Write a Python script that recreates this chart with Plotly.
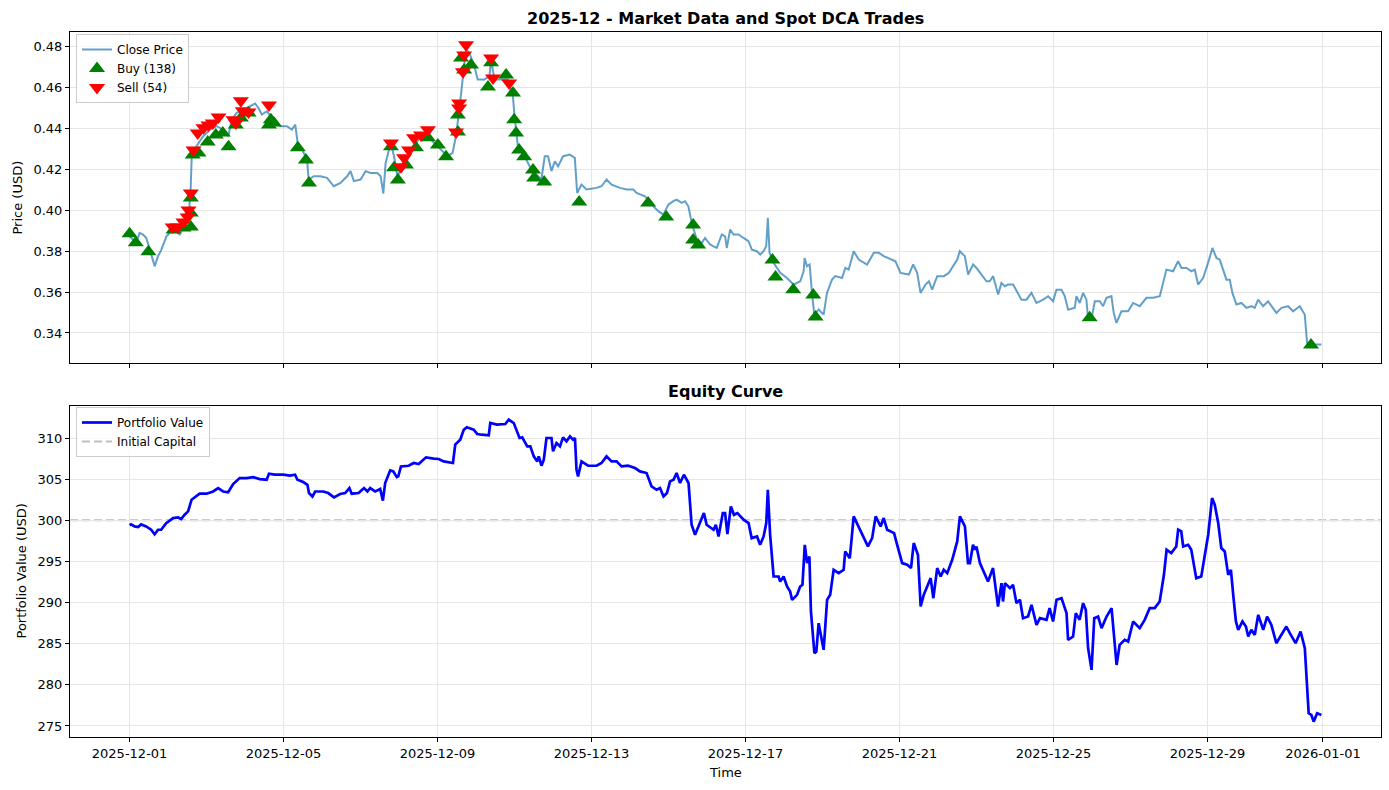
import pandas as pd
import plotly.graph_objects as go

START = pd.Timestamp("2025-12-01")

# ---------------- data ----------------
# time is given as days after 2025-12-01 00:00
price_day = [0.000, 0.174, 0.261, 0.348, 0.435, 0.522, 0.652, 0.739, 0.826, 0.957,
             1.130, 1.304, 1.435, 1.522, 1.583, 1.617, 1.739, 1.913, 2.087, 2.261,
             2.435, 2.565, 2.652, 2.783, 2.957, 3.130, 3.261, 3.348, 3.435, 3.565,
             3.739, 3.913, 4.087, 4.217, 4.304, 4.365, 4.478, 4.609, 4.652, 4.783,
             4.957, 5.130, 5.304, 5.478, 5.652, 5.739, 5.826, 6.000, 6.130, 6.261,
             6.435, 6.522, 6.591, 6.652, 6.783, 6.870, 6.957, 7.043, 7.217, 7.391,
             7.565, 7.739, 7.913, 8.087, 8.261, 8.391, 8.478, 8.565, 8.652, 8.739,
             8.826, 8.957, 9.043, 9.217, 9.348, 9.391, 9.478, 9.652, 9.826, 9.957,
             10.000, 10.087, 10.261, 10.435, 10.696, 10.785, 10.872, 10.959, 11.046, 11.132,
             11.262, 11.436, 11.566, 11.627, 11.740, 11.870, 12.130, 12.260, 12.390, 12.521,
             12.738, 12.911, 13.085, 13.171, 13.388, 13.605, 13.735, 13.866, 13.996, 14.126,
             14.213, 14.343, 14.430, 14.516, 14.603, 14.733, 14.863, 14.950, 15.080, 15.167,
             15.254, 15.384, 15.471, 15.514, 15.601, 15.688, 15.818, 15.948, 16.078, 16.165,
             16.295, 16.382, 16.469, 16.538, 16.581, 16.625, 16.729, 16.902, 17.076, 17.249,
             17.423, 17.510, 17.536, 17.597, 17.666, 17.727, 17.787, 17.900, 18.030, 18.117,
             18.247, 18.334, 18.508, 18.594, 18.681, 18.811, 18.941, 19.158, 19.332, 19.462,
             19.592, 19.896, 20.026, 20.243, 20.356, 20.460, 20.547, 20.677, 20.764, 20.850,
             20.980, 21.154, 21.284, 21.501, 21.567, 21.697, 21.784, 21.913, 22.000, 22.130,
             22.260, 22.346, 22.433, 22.563, 22.649, 22.736, 22.822, 22.952, 23.039, 23.169,
             23.299, 23.429, 23.558, 23.732, 23.861, 23.991, 24.078, 24.208, 24.294, 24.381,
             24.554, 24.597, 24.684, 24.771, 24.857, 24.900, 24.987, 25.074, 25.203, 25.290,
             25.377, 25.506, 25.567, 25.636, 25.766, 25.939, 26.069, 26.242, 26.416, 26.589,
             26.762, 26.848, 26.935, 27.108, 27.238, 27.325, 27.455, 27.584, 27.671, 27.758,
             27.887, 28.017, 28.130, 28.234, 28.320, 28.407, 28.494, 28.580, 28.649, 28.753,
             28.883, 29.013, 29.143, 29.229, 29.316, 29.446, 29.576, 29.792, 29.922, 30.095,
             30.225, 30.398, 30.528, 30.589, 30.658, 30.788, 30.961]
price_close = [0.3873, 0.3841, 0.3890, 0.3882, 0.3865, 0.3808, 0.3727, 0.3776, 0.3808, 0.3873,
               0.3906, 0.3882, 0.3939, 0.3955, 0.4085, 0.4281, 0.4314, 0.4363, 0.4395, 0.4412,
               0.4395, 0.4363, 0.4444, 0.4477, 0.4493, 0.4510, 0.4523, 0.4501, 0.4469, 0.4485,
               0.4444, 0.4412, 0.4412, 0.4395, 0.4420, 0.4330, 0.4298, 0.4249, 0.4151, 0.4167,
               0.4167, 0.4159, 0.4118, 0.4134, 0.4167, 0.4192, 0.4143, 0.4151, 0.4192, 0.4183,
               0.4183, 0.4167, 0.4082, 0.4232, 0.4330, 0.4265, 0.4167, 0.4200, 0.4249, 0.4314,
               0.4363, 0.4363, 0.4330, 0.4298, 0.4265, 0.4281, 0.4363, 0.4493, 0.4640, 0.4787,
               0.4771, 0.4705, 0.4640, 0.4640, 0.4656, 0.4738, 0.4640, 0.4640, 0.4640, 0.4559,
               0.4461, 0.4314, 0.4265, 0.4200, 0.4151, 0.4265, 0.4265, 0.4192, 0.4240, 0.4216,
               0.4265, 0.4273, 0.4257, 0.4085, 0.4126, 0.4102, 0.4110, 0.4118, 0.4151, 0.4126,
               0.4110, 0.4102, 0.4102, 0.4085, 0.4069, 0.4020, 0.3996, 0.3979, 0.4028, 0.4045,
               0.4053, 0.4037, 0.4045, 0.4020, 0.3939, 0.3857, 0.3841, 0.3865, 0.3833, 0.3824,
               0.3816, 0.3882, 0.3873, 0.3816, 0.3906, 0.3882, 0.3882, 0.3865, 0.3849, 0.3808,
               0.3800, 0.3784, 0.3800, 0.3824, 0.3963, 0.3792, 0.3743, 0.3694, 0.3669, 0.3637,
               0.3653, 0.3702, 0.3767, 0.3727, 0.3735, 0.3596, 0.3490, 0.3515, 0.3490, 0.3596,
               0.3661, 0.3678, 0.3669, 0.3718, 0.3710, 0.3800, 0.3759, 0.3735, 0.3792, 0.3792,
               0.3776, 0.3751, 0.3694, 0.3686, 0.3735, 0.3694, 0.3596, 0.3637, 0.3653, 0.3612,
               0.3678, 0.3678, 0.3694, 0.3759, 0.3800, 0.3776, 0.3686, 0.3735, 0.3718, 0.3686,
               0.3653, 0.3653, 0.3678, 0.3588, 0.3645, 0.3629, 0.3637, 0.3637, 0.3604, 0.3563,
               0.3563, 0.3596, 0.3547, 0.3563, 0.3580, 0.3555, 0.3612, 0.3612, 0.3580, 0.3514,
               0.3523, 0.3580, 0.3547, 0.3596, 0.3563, 0.3466, 0.3466, 0.3555, 0.3555, 0.3531,
               0.3572, 0.3580, 0.3498, 0.3449, 0.3506, 0.3506, 0.3547, 0.3531, 0.3572, 0.3572,
               0.3580, 0.3653, 0.3710, 0.3702, 0.3751, 0.3718, 0.3718, 0.3702, 0.3710, 0.3637,
               0.3669, 0.3743, 0.3816, 0.3767, 0.3759, 0.3710, 0.3661, 0.3661, 0.3596, 0.3539,
               0.3547, 0.3523, 0.3531, 0.3523, 0.3563, 0.3531, 0.3555, 0.3498, 0.3523, 0.3531,
               0.3506, 0.3531, 0.3490, 0.3351, 0.3335, 0.3343, 0.3343]

equity_day = [0.00, 0.04, 0.13, 0.22, 0.30, 0.43, 0.56, 0.65, 0.74, 0.82,
              0.95, 1.13, 1.26, 1.34, 1.43, 1.52, 1.61, 1.74, 1.82, 2.00,
              2.17, 2.30, 2.43, 2.56, 2.69, 2.86, 3.04, 3.21, 3.38, 3.56,
              3.62, 3.77, 3.99, 4.16, 4.30, 4.36, 4.51, 4.62, 4.66, 4.75,
              4.82, 5.03, 5.16, 5.31, 5.47, 5.60, 5.71, 5.77, 5.95, 6.09,
              6.18, 6.25, 6.38, 6.51, 6.58, 6.64, 6.77, 6.85, 6.94, 6.98,
              7.05, 7.25, 7.38, 7.51, 7.70, 7.90, 8.03, 8.16, 8.29, 8.40,
              8.46, 8.59, 8.68, 8.76, 8.94, 9.03, 9.15, 9.33, 9.37, 9.54,
              9.76, 9.85, 9.98, 10.07, 10.13, 10.20, 10.33, 10.41, 10.50, 10.59,
              10.63, 10.70, 10.76, 10.83, 10.96, 11.00, 11.09, 11.18, 11.26, 11.35,
              11.44, 11.52, 11.57, 11.61, 11.65, 11.74, 11.91, 12.13, 12.26, 12.39,
              12.52, 12.65, 12.78, 12.95, 13.13, 13.26, 13.43, 13.56, 13.69, 13.78,
              13.87, 13.96, 14.04, 14.13, 14.21, 14.30, 14.40, 14.52, 14.60, 14.69,
              14.82, 14.92, 14.99, 15.17, 15.23, 15.30, 15.41, 15.47, 15.53, 15.62,
              15.70, 15.79, 15.95, 16.08, 16.16, 16.30, 16.38, 16.47, 16.54, 16.58,
              16.64, 16.73, 16.86, 16.90, 16.99, 17.08, 17.16, 17.21, 17.34, 17.42,
              17.48, 17.54, 17.60, 17.66, 17.70, 17.79, 17.84, 17.90, 18.03, 18.12,
              18.20, 18.29, 18.42, 18.55, 18.59, 18.71, 18.81, 18.94, 19.07, 19.18,
              19.29, 19.38, 19.51, 19.59, 19.68, 19.86, 19.94, 20.07, 20.20, 20.30,
              20.37, 20.48, 20.55, 20.63, 20.72, 20.81, 20.88, 20.98, 21.07, 21.15,
              21.24, 21.37, 21.50, 21.57, 21.70, 21.78, 21.83, 21.91, 21.96, 22.00,
              22.09, 22.22, 22.30, 22.43, 22.56, 22.65, 22.69, 22.74, 22.87, 22.95,
              23.04, 23.13, 23.21, 23.34, 23.43, 23.56, 23.65, 23.82, 23.90, 23.99,
              24.08, 24.21, 24.34, 24.38, 24.51, 24.58, 24.68, 24.77, 24.84, 24.90,
              24.99, 25.06, 25.16, 25.25, 25.38, 25.51, 25.64, 25.72, 25.85, 25.94,
              26.07, 26.24, 26.37, 26.50, 26.63, 26.76, 26.87, 26.94, 27.06, 27.19,
              27.24, 27.32, 27.37, 27.50, 27.58, 27.71, 27.84, 28.02, 28.12, 28.19,
              28.28, 28.36, 28.45, 28.54, 28.61, 28.67, 28.74, 28.80, 28.91, 29.00,
              29.06, 29.14, 29.23, 29.32, 29.45, 29.55, 29.66, 29.79, 29.92, 30.05,
              30.14, 30.29, 30.42, 30.53, 30.63, 30.70, 30.76, 30.85, 30.96]
equity_value = [299.40, 299.50, 299.25, 299.17, 299.50, 299.25, 298.85, 298.30, 298.85, 298.85,
                299.65, 300.27, 300.35, 300.15, 300.67, 301.08, 302.50, 302.90, 303.23, 303.23,
                303.50, 303.90, 303.50, 303.40, 304.40, 305.13, 305.13, 305.25, 305.00, 304.93,
                305.66, 305.54, 305.54, 305.42, 305.54, 304.93, 304.65, 304.32, 303.31, 302.90,
                303.50, 303.50, 303.31, 302.78, 303.19, 303.31, 303.92, 303.23, 303.31, 303.92,
                303.51, 303.92, 303.51, 303.80, 302.38, 304.53, 306.07, 305.94, 305.25, 305.34,
                306.55, 306.63, 306.96, 306.84, 307.65, 307.49, 307.45, 307.16, 307.04, 306.96,
                309.19, 309.80, 311.01, 311.30, 311.01, 310.49, 310.40, 310.32, 311.82, 311.62,
                311.70, 312.23, 311.82, 310.81, 310.00, 310.08, 308.99, 308.99, 307.77, 307.16,
                307.77, 306.63, 307.36, 310.00, 310.00, 308.38, 309.39, 308.99, 310.08, 309.59,
                310.20, 309.80, 310.00, 306.15, 305.34, 307.16, 306.63, 306.63, 306.96, 307.77,
                307.16, 307.16, 306.55, 306.63, 306.35, 305.94, 305.74, 304.12, 303.71, 303.92,
                302.90, 303.31, 304.73, 304.93, 305.74, 304.53, 305.54, 304.53, 299.46, 298.24,
                299.66, 300.88, 299.46, 298.85, 299.46, 298.04, 300.88, 300.88, 298.32, 301.69,
                300.67, 300.88, 300.07, 299.66, 297.83, 298.04, 297.02, 298.04, 299.66, 303.71,
                298.24, 293.17, 293.17, 292.56, 293.17, 291.95, 291.35, 290.33, 290.94, 291.95,
                292.16, 297.02, 294.79, 295.60, 288.91, 283.84, 284.05, 287.49, 284.25, 290.33,
                290.94, 293.98, 293.58, 293.98, 296.21, 295.40, 300.47, 299.25, 297.83, 296.82,
                297.83, 300.47, 299.25, 300.27, 298.85, 298.44, 297.02, 294.79, 294.59, 294.19,
                297.23, 295.81, 289.52, 290.94, 291.95, 292.97, 290.53, 294.19, 293.17, 293.98,
                293.58, 295.20, 297.43, 300.47, 299.25, 294.79, 294.79, 297.02, 296.42, 296.82,
                294.79, 293.37, 292.56, 294.19, 289.52, 292.36, 290.13, 292.36, 291.75, 292.16,
                289.93, 290.33, 288.10, 288.30, 289.72, 287.29, 288.10, 287.90, 289.32, 287.70,
                290.33, 290.53, 288.71, 285.47, 285.87, 288.71, 287.90, 289.93, 289.12, 284.45,
                281.82, 288.10, 288.30, 286.89, 288.30, 289.32, 282.42, 284.86, 285.47, 285.26,
                287.70, 286.89, 287.90, 289.32, 289.32, 290.13, 293.37, 296.42, 296.01, 296.82,
                298.85, 298.65, 296.82, 297.02, 296.42, 292.97, 293.17, 298.24, 302.70, 301.89,
                299.66, 296.62, 296.21, 293.37, 293.98, 290.94, 287.70, 286.68, 287.70, 287.09,
                285.87, 286.68, 286.07, 288.51, 286.68, 288.30, 287.29, 285.06, 286.07, 287.09,
                286.28, 285.06, 286.48, 284.45, 276.54, 276.34, 275.53, 276.54, 276.34]

buy_day = [0.00, 0.16, 0.49, 1.14, 1.40, 1.59, 1.59, 1.59, 1.64, 1.79,
           2.03, 2.24, 2.42, 2.57, 2.76, 2.89, 3.09, 3.62, 3.67, 3.75,
           4.37, 4.58, 4.66, 6.79, 6.87, 6.97, 7.18, 7.44, 7.75, 8.01,
           8.22, 8.53, 8.53, 8.61, 8.69, 8.87, 9.31, 9.39, 9.78, 9.96,
           9.99, 10.04, 10.12, 10.25, 10.48, 10.51, 10.77, 11.68, 13.47, 13.94,
           14.64, 14.64, 14.77, 16.70, 16.78, 17.24, 17.76, 17.82, 24.94, 30.69]
buy_price = [0.3885, 0.3841, 0.3797, 0.3904, 0.3914, 0.3919, 0.3987, 0.4061, 0.4271, 0.4281,
             0.4335, 0.4369, 0.4379, 0.4311, 0.4418, 0.4452, 0.4477, 0.4418, 0.4443, 0.4428,
             0.4306, 0.4247, 0.4134, 0.4311, 0.4208, 0.4149, 0.4222, 0.4306, 0.4355, 0.4320,
             0.4262, 0.4467, 0.4384, 0.4746, 0.4687, 0.4712, 0.4604, 0.4722, 0.4663, 0.4575,
             0.4443, 0.4379, 0.4296, 0.4262, 0.4198, 0.4159, 0.4139, 0.4041, 0.4036, 0.3968,
             0.3929, 0.3855, 0.3831, 0.3757, 0.3674, 0.3611, 0.3586, 0.3478, 0.3474, 0.3341]

sell_day = [1.12, 1.25, 1.40, 1.51, 1.53, 1.59, 1.66, 1.77, 1.92, 2.05,
            2.16, 2.31, 2.70, 2.76, 2.89, 2.94, 3.09, 3.62, 6.79, 7.05,
            7.13, 7.26, 7.39, 7.57, 7.75, 8.48, 8.56, 8.56, 8.66, 8.69,
            8.74, 9.39, 9.44, 9.86]
sell_price = [0.3919, 0.3919, 0.3943, 0.3968, 0.4002, 0.4085, 0.4296, 0.4379, 0.4404, 0.4418,
              0.4428, 0.4457, 0.4443, 0.4428, 0.4536, 0.4487, 0.4482, 0.4516, 0.4330, 0.4213,
              0.4257, 0.4296, 0.4355, 0.4369, 0.4394, 0.4384, 0.4501, 0.4526, 0.4678, 0.4761,
              0.4810, 0.4746, 0.4648, 0.4624]

n_buys = 138
n_sells = 54
initial_capital = 300

x_tick_labels = ["2025-12-01", "2025-12-05", "2025-12-09", "2025-12-13", "2025-12-17",
                 "2025-12-21", "2025-12-25", "2025-12-29", "2026-01-01"]
price_ticks = [0.34, 0.36, 0.38, 0.40, 0.42, 0.44, 0.46, 0.48]
equity_ticks = [275, 280, 285, 290, 295, 300, 305, 310]


def to_time(days):
    return [START + pd.Timedelta(days=d) for d in days]


# ---------------- figure ----------------
W, H = 1389, 790
FONT = "DejaVu Sans"

fig = go.Figure()

fig.add_trace(go.Scatter(
    x=to_time(price_day), y=price_close, mode="lines", name="Close Price",
    line=dict(color="rgba(31,119,180,0.7)", width=2), xaxis="x", yaxis="y",
    legend="legend"))
fig.add_trace(go.Scatter(
    x=to_time(buy_day), y=buy_price, mode="markers", name=f"Buy ({n_buys})",
    marker=dict(symbol="triangle-up", size=14, color="green", line=dict(width=0)),
    xaxis="x", yaxis="y", legend="legend"))
fig.add_trace(go.Scatter(
    x=to_time(sell_day), y=sell_price, mode="markers", name=f"Sell ({n_sells})",
    marker=dict(symbol="triangle-down", size=14, color="red", line=dict(width=0)),
    xaxis="x", yaxis="y", legend="legend"))

fig.add_trace(go.Scatter(
    x=to_time(equity_day), y=equity_value, mode="lines", name="Portfolio Value",
    line=dict(color="blue", width=2.7), xaxis="x2", yaxis="y2", legend="legend2"))
# legend entry for the initial-capital reference line
fig.add_trace(go.Scatter(
    x=[None], y=[None], mode="lines", name="Initial Capital",
    line=dict(color="rgba(128,128,128,0.5)", width=2, dash="8px,4px"),
    xaxis="x2", yaxis="y2", legend="legend2"))
fig.add_shape(type="line", xref="x2 domain", x0=0, x1=1, yref="y2",
              y0=initial_capital, y1=initial_capital,
              line=dict(color="rgba(128,128,128,0.55)", width=2, dash="8px,4px"),
              layer="below")

t0, t1 = min(price_day), max(price_day)
pad = 0.05 * (t1 - t0)
x_range = [START + pd.Timedelta(days=t0 - pad), START + pd.Timedelta(days=t1 + pad)]
tick_vals = [pd.Timestamp(s) for s in x_tick_labels]

x_dom = [70 / W, 1381 / W]
top_dom = [(H - 363) / H, (H - 32) / H]
bot_dom = [(H - 737) / H, (H - 406) / H]

axis_common = dict(showline=True, mirror=True, linecolor="black", linewidth=1,
                   ticks="outside", ticklen=4, tickwidth=1, tickcolor="black",
                   showgrid=True, gridcolor="#e6e6e6", gridwidth=1, zeroline=False,
                   tickfont=dict(family=FONT, size=13, color="black"))

fig.update_layout(
    width=W, height=H,
    margin=dict(l=0, r=0, t=0, b=0),
    paper_bgcolor="white", plot_bgcolor="white",
    font=dict(family=FONT, color="black"),
    xaxis=dict(domain=x_dom, anchor="y", range=x_range, tickvals=tick_vals,
               ticktext=x_tick_labels, showticklabels=False, **axis_common),
    yaxis=dict(domain=top_dom, anchor="x", range=[0.3253, 0.4873],
               tickvals=price_ticks, tickformat=".2f", **axis_common),
    xaxis2=dict(domain=x_dom, anchor="y2", range=x_range, matches="x",
                tickvals=tick_vals, ticktext=x_tick_labels, **axis_common),
    yaxis2=dict(domain=bot_dom, anchor="x2", range=[273.66, 313.89],
                tickvals=equity_ticks, **axis_common),
    legend=dict(x=76 / W, y=1 - 34 / H, xanchor="left", yanchor="top",
                bgcolor="rgba(255,255,255,0.8)", bordercolor="#cccccc", borderwidth=1,
                font=dict(family=FONT, size=12), tracegroupgap=0, itemwidth=30),
    legend2=dict(x=76 / W, y=1 - 407 / H, xanchor="left", yanchor="top",
                 bgcolor="rgba(255,255,255,0.8)", bordercolor="#cccccc", borderwidth=1,
                 font=dict(family=FONT, size=12), tracegroupgap=0, itemwidth=30),
    showlegend=True,
)

annotations = [
    dict(text="<b>2025-12 - Market Data and Spot DCA Trades</b>", x=725 / W, y=1 - 18 / H,
         font=dict(size=16, family=FONT)),
    dict(text="<b>Equity Curve</b>", x=725 / W, y=1 - 391 / H, font=dict(size=16, family=FONT)),
    dict(text="Price (USD)", x=17 / W, y=1 - 197.5 / H, textangle=-90,
         font=dict(size=13, family=FONT)),
    dict(text="Portfolio Value (USD)", x=21 / W, y=1 - 571.5 / H, textangle=-90,
         font=dict(size=13, family=FONT)),
    dict(text="Time", x=725 / W, y=1 - 772 / H, font=dict(size=13, family=FONT)),
]
for a in annotations:
    fig.add_annotation(xref="paper", yref="paper", xanchor="center", yanchor="middle",
                       showarrow=False, **a)

fig.write_html("out.html")
